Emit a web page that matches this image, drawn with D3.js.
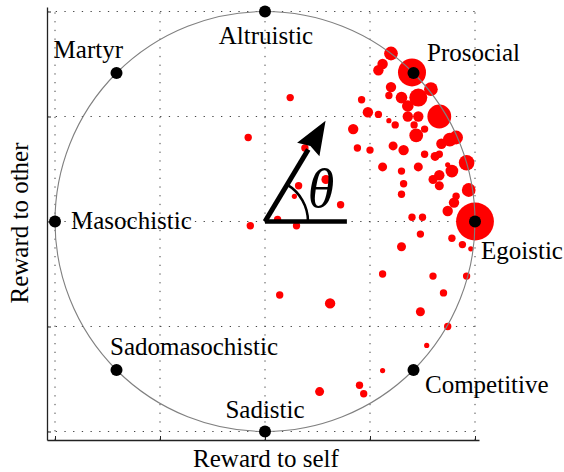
<!DOCTYPE html>
<html>
<head>
<meta charset="utf-8">
<script src="https://cdn.jsdelivr.net/npm/d3@7"></script>
<style>
body{margin:0;background:#fff}
</style>
</head>
<body>
<div id="chart"></div>
<script>
// Reward to self / reward to other, one entry per observed choice pattern
var selfReward = [0.60,0.70,0.56,0.54,0.60,0.59,0.46,0.65,0.73,0.79,0.68,0.83,0.49,0.54,0.59,0.62,
  0.68,0.73,0.71,0.76,0.72,0.84,0.88,0.91,0.96,0.42,0.44,0.50,0.61,0.66,0.76,0.81,0.83,0.87,0.89,
  0.83,0.80,0.83,0.56,0.65,0.73,0.66,0.65,0.97,0.91,0.90,0.87,0.70,0.75,1.00,0.74,0.89,0.94,0.98,
  0.65,0.56,0.80,0.96,0.85,0.07,0.31,0.74,0.87,0.77,0.56,0.26,0.45,0.47,0.12,-0.08,0.19,0.29,0.16,
  0.14,0.36,0.06,0.15,-0.07];
var otherReward = [0.80,0.71,0.75,0.72,0.64,0.60,0.58,0.59,0.59,0.63,0.55,0.50,0.52,0.51,0.48,0.46,
  0.50,0.50,0.46,0.44,0.41,0.37,0.39,0.40,0.28,0.44,0.35,0.34,0.36,0.34,0.32,0.31,0.32,0.27,0.24,
  0.22,0.20,0.17,0.26,0.24,0.26,0.18,0.13,0.15,0.12,0.09,0.05,0.02,0.02,0.00,-0.06,-0.08,-0.11,-0.13,
  -0.12,-0.25,-0.26,-0.26,-0.34,-0.35,-0.39,-0.43,-0.50,-0.59,-0.71,-0.81,-0.78,-0.82,0.59,0.40,0.35,
  0.20,0.17,0.12,0.08,0.01,-0.02,-0.02];
var counts = [7,29,4,4,4,2,2,5,12,7,5,21,4,2,1,2,
  4,4,2,2,7,4,7,7,9,4,2,2,3,4,2,3,2,1,6,
  4,3,3,3,2,3,2,2,7,2,4,4,2,2,53,2,2,2,1,
  3,2,2,2,2,2,4,3,2,1,1,3,2,2,2,2,2,3,2,
  1,2,2,2,2];

var archetypes = ["Egoistic","Prosocial","Altruistic","Martyr","Masochistic","Sadomasochistic","Sadistic","Competitive"];
var archetypeAngles = [0,45,90,135,180,225,270,315];
var gridTicks = [-1,-0.5,0,0.5,1];
var thetaDeg = 59;

// label placement next to each archetype dot
var labelPos = [[6,37.5,"start"],[13.5,-12,"start"],[1,32.5,"middle"],[6.5,-15,"end"],
  [16,7.5,"start"],[-6.5,-15,"start"],[0,-13.5,"middle"],[11.5,23,"start"]];

var serif = "Liberation Serif";

var W = 564, H = 472;
var svg = d3.select("#chart").append("svg").attr("width",W).attr("height",H);

var x = d3.scaleLinear().domain([-1,1]).range([55,475]);
var y = d3.scaleLinear().domain([-1,1]).range([431.5,11.5]);
var r = d3.scaleSqrt().domain([0,1]).range([0,2.6]);

var xLo = x.invert(47), xHi = x.invert(479), yLo = y.invert(440), yHi = y.invert(7);

// dotted grid
var grid = svg.append("g").attr("stroke","#444").attr("stroke-width",1).attr("stroke-dasharray","1.3,7.4");
grid.selectAll("line.v").data(gridTicks).enter().append("line")
  .attr("x1",function(d){return x(d)}).attr("x2",function(d){return x(d)})
  .attr("y1",y(yLo)).attr("y2",y(yHi));
grid.selectAll("line.h").data(gridTicks).enter().append("line")
  .attr("y1",function(d){return y(d)}).attr("y2",function(d){return y(d)})
  .attr("x1",x(xLo)).attr("x2",x(xHi));

// axes
var xAxisScale = d3.scaleLinear().domain([xLo,xHi]).range([47,479]);
var yAxisScale = d3.scaleLinear().domain([yLo,yHi]).range([440,7]);
var gx = svg.append("g").attr("transform","translate(0,440)")
  .call(d3.axisBottom(xAxisScale).tickValues(gridTicks).tickSize(-4).tickSizeOuter(0).tickFormat(""));
var gy = svg.append("g").attr("transform","translate(47,0)")
  .call(d3.axisLeft(yAxisScale).tickValues(gridTicks).tickSize(-4).tickSizeOuter(0).tickFormat(""));
svg.selectAll(".domain").attr("stroke","#222").attr("stroke-width",1.3);
svg.selectAll(".tick line").attr("stroke","#222");

// observed choices
var pts = d3.range(selfReward.length).map(function(i){
  return {sx:selfReward[i], oy:otherReward[i], n:counts[i]};
}).sort(function(a,b){return b.n-a.n});
svg.append("g").selectAll("circle").data(pts).enter().append("circle")
  .attr("cx",function(d){return x(d.sx)})
  .attr("cy",function(d){return y(d.oy)})
  .attr("r",function(d){return r(d.n)})
  .attr("fill","#ff0000");

// unit circle
svg.append("ellipse")
  .attr("cx",x(0)).attr("cy",y(0))
  .attr("rx",x(1)-x(0)).attr("ry",y(0)-y(1))
  .attr("fill","none").attr("stroke","#808080").attr("stroke-width",1.1);

// archetype markers
var arch = archetypes.map(function(name,i){
  var a = archetypeAngles[i]*Math.PI/180;
  return {name:name, px:x(Math.cos(a)), py:y(Math.sin(a)), lp:labelPos[i]};
});
svg.append("g").selectAll("circle").data(arch).enter().append("circle")
  .attr("cx",function(d){return d.px}).attr("cy",function(d){return d.py})
  .attr("r",6).attr("fill","#000");
svg.append("g").selectAll("text").data(arch).enter().append("text")
  .attr("x",function(d){return d.px+d.lp[0]})
  .attr("y",function(d){return d.py+d.lp[1]})
  .attr("text-anchor",function(d){return d.lp[2]})
  .style("font-family",serif).style("font-size","25px")
  .text(function(d){return d.name});

// theta annotation
var t = thetaDeg*Math.PI/180;
var ann = svg.append("g");
ann.append("line").attr("x1",x(0)).attr("y1",y(0)).attr("x2",x(0.39)).attr("y2",y(0))
  .attr("stroke","#000").attr("stroke-width",4.5);
var aLen = 0.40, hLen = 0.16, hW = 0.062;
ann.append("line").attr("x1",x(0)).attr("y1",y(0))
  .attr("x2",x(aLen*Math.cos(t))).attr("y2",y(aLen*Math.sin(t)))
  .attr("stroke","#000").attr("stroke-width",5);
var bx = 0.56-hLen;
var head = [[0.56,0],[bx,hW],[bx+0.02,0],[bx,-hW]].map(function(p){
  var u = p[0]*Math.cos(t) - p[1]*Math.sin(t);
  var v = p[0]*Math.sin(t) + p[1]*Math.cos(t);
  return [x(u), y(v)];
});
ann.append("path").attr("d", d3.line()(head)+"Z").attr("fill","#000");
var arc = d3.arc().innerRadius(43).outerRadius(43).startAngle(Math.PI/2).endAngle(Math.PI/2 - t);
ann.append("path").attr("transform","translate("+x(0)+","+y(0)+")")
  .attr("d",arc()).attr("fill","none").attr("stroke","#000").attr("stroke-width",2.5);
ann.append("text").attr("x",321).attr("y",207).attr("text-anchor","middle")
  .style("font-family",serif).style("font-size","54px").style("font-style","italic").text("θ");

// axis titles
svg.append("text").attr("x",266).attr("y",467).attr("text-anchor","middle")
  .style("font-family",serif).style("font-size","25px").text("Reward to self");
svg.append("text").attr("transform","translate(28,223) rotate(-90)").attr("text-anchor","middle")
  .style("font-family",serif).style("font-size","25px").text("Reward to other");
</script>
</body>
</html>
